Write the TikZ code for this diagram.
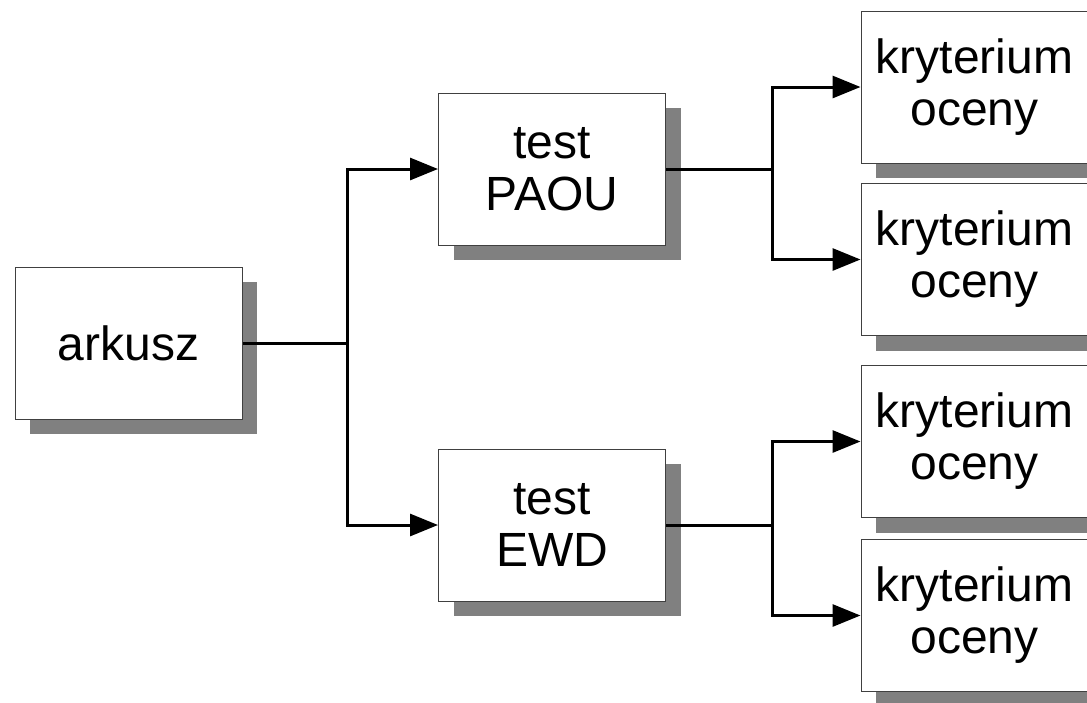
\documentclass[tikz,border=0pt]{standalone}
\usepackage{fontspec}
\setmainfont{Liberation Sans}
\usetikzlibrary{arrows.meta}
\usetikzlibrary{shadows}

\begin{document}
\begin{tikzpicture}[x=0.5pt,y=-0.5pt]
\tikzset{blok/.style={draw=black!75, line width=0.5pt, fill=white,
  minimum width=113.5pt, minimum height=76pt, inner sep=0pt, align=center,
  font=\fontsize{24}{26}\selectfont,
  drop shadow={shadow xshift=7.5pt, shadow yshift=-7.5pt, fill=black!50, opacity=1}}}
\useasboundingbox (0,0) rectangle (1087,702);
\clip (0,0) rectangle (1087,702);
\node[blok] (ark) at (128.5,343) {arkusz};
\node[blok] (paou) at (552,169) {test\\PAOU};
\node[blok] (ewd) at (552,525) {test\\EWD};
\foreach \y [count=\i] in {87,259.5,441.5,615.5} {
 \node[blok] (kr\i) at (974.5,\y) {kryterium\\oceny};
}
\coordinate (wez) at (347,343);
\draw[black, line width=1.5pt] (ark.east)--(wez);
\draw[black, line width=1.5pt, ->, >={Triangle[length=14pt,width=11pt]}] (wez) |- (paou.west);
\draw[black, line width=1.5pt, ->, >={Triangle[length=14pt,width=11pt]}] (wez) |- (ewd.west);
\draw[black, line width=1.5pt] (paou.east)--++(106,0) coordinate (wezA);
\draw[black, line width=1.5pt] (ewd.east)--++(106,0) coordinate (wezB);
\foreach \a/\k in {A/1,A/2,B/3,B/4} {
 \draw[black, line width=1.5pt, ->, >={Triangle[length=14pt,width=11pt]}] (wez\a) |- (kr\k.west);
}
\end{tikzpicture}
\end{document}
